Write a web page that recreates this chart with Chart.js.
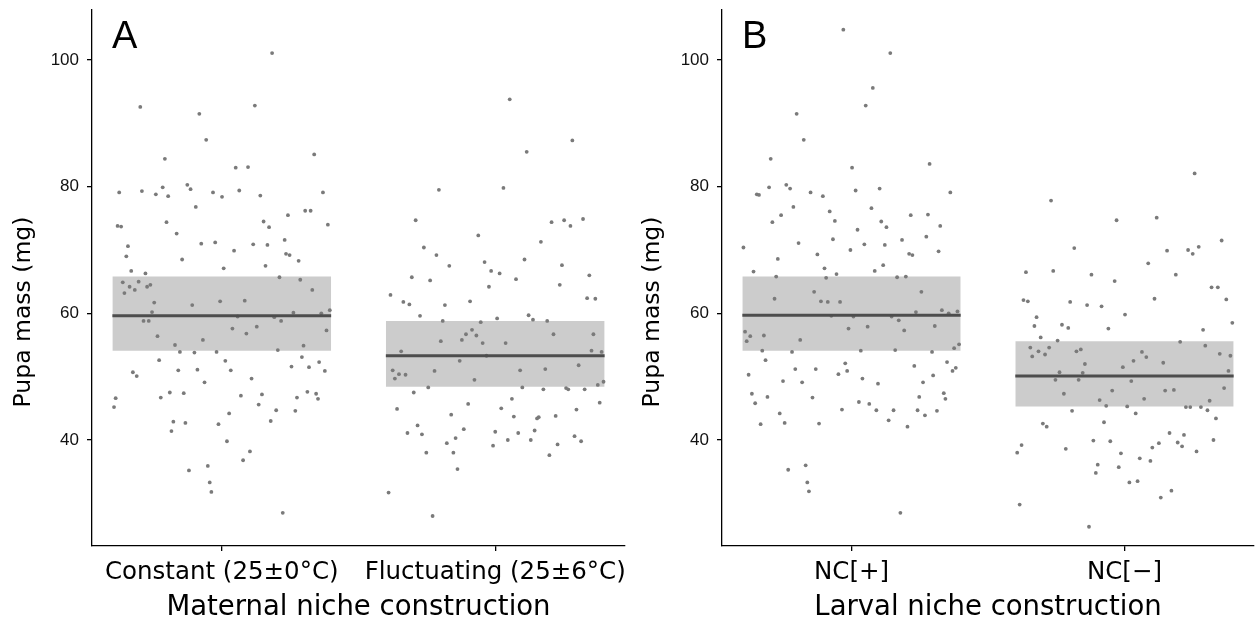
<!DOCTYPE html>
<html><head><meta charset="utf-8">
<script src="https://cdn.jsdelivr.net/npm/chart.js@4.4.1/dist/chart.umd.min.js"></script>
<style>
html,body{margin:0;padding:0;background:#fff;width:1258px;height:624px;overflow:hidden}
canvas{position:absolute;top:0}
#a{left:0}
#b{left:629px}
</style></head><body>
<canvas id="a" width="629" height="624"></canvas>
<canvas id="b" width="629" height="624"></canvas>
<script>
// ---------- DATA ----------
const yTicks = [40, 60, 80, 100];
const labelsA = ["Constant (25\u00b10\u00b0C)", "Fluctuating (25\u00b16\u00b0C)"];
const labelsB = ["NC[+]", "NC[\u2212]"];
const titleA = "Maternal niche construction";
const titleB = "Larval niche construction";
const yTitle = "Pupa mass (mg)";

// summary: mean and interval (box) per group
const meanA = [59.6, 53.3], lowerA = [54.1, 48.4], upperA = [65.8, 58.8];
const meanB = [59.7, 50.1], lowerB = [54.1, 45.3], upperB = [65.8, 55.6];

// individual observations: horizontal jitter (category units) and mass (mg)
const constantJitter = [0.184,-0.298,0.121,-0.082,-0.057,-0.208,0.338,0.051,0.096,-0.375,-0.292,-0.241,-0.216,-0.196,-0.126,-0.114,-0.032,0.001,0.064,0.141,0.370,-0.095,0.242,0.305,0.325,-0.381,-0.368,-0.202,0.153,0.173,0.388,-0.165,-0.343,-0.349,-0.075,-0.024,0.115,0.167,0.230,0.045,0.235,0.248,0.281,-0.145,0.160,0.007,
-0.331,-0.279,0.211,0.287,-0.362,-0.304,-0.337,-0.318,-0.273,-0.261,-0.356,0.331,-0.247,-0.108,-0.006,0.084,-0.255,0.262,0.364,0.395,-0.286,-0.267,0.058,0.192,0.217,0.039,0.090,0.128,0.383,-0.235,-0.069,-0.171,0.299,-0.153,-0.100,-0.019,0.205,0.293,-0.229,0.013,0.356,0.255,0.319,-0.159,-0.089,0.033,0.377,-0.325,-0.311,0.109,-0.063,-0.388,-0.394,-0.223,-0.190,-0.139,0.070,0.147,0.135,0.275,0.313,0.345,0.352,0.199,0.269,0.027,0.179,-0.177,-0.133,-0.184,-0.012,0.019,0.103,0.078,-0.051,-0.120,-0.044,-0.038,0.223];
const constantMass = [101.1,92.6,92.8,91.5,87.4,84.4,85.1,83.0,83.1,79.1,79.3,78.8,79.9,78.5,80.3,79.6,79.1,78.4,79.4,78.6,79.1,76.8,75.5,76.2,76.2,73.8,73.7,74.4,74.5,73.6,74.0,72.6,70.6,69.0,71.0,71.2,70.9,70.8,71.6,69.9,69.4,69.2,68.3,68.5,67.5,67.1,
66.7,66.3,65.7,65.3,64.9,65.0,64.2,63.7,64.2,64.5,63.2,63.7,61.7,61.3,61.9,62.0,60.2,60.1,60.0,60.5,58.8,58.8,59.5,59.4,58.8,57.6,56.8,57.9,57.3,56.4,55.8,55.0,54.9,53.9,53.8,53.9,54.2,53.1,52.6,52.5,52.3,51.6,51.5,51.0,51.1,51.0,50.9,50.7,50.1,49.7,49.1,46.6,45.2,46.7,47.5,47.4,47.0,47.2,45.6,46.7,47.6,47.3,46.5,44.7,44.6,44.2,43.0,42.9,42.7,41.4,42.5,39.8,38.2,36.8,35.9,35.2,33.3,31.8,28.5];

const fluctJitter = [0.053,0.282,0.115,-0.206,0.030,-0.291,0.206,0.252,0.275,0.321,-0.062,0.167,-0.261,-0.215,-0.168,-0.039,0.107,0.244,
-0.015,0.016,0.076,-0.305,-0.238,0.344,-0.023,0.236,-0.383,-0.336,-0.314,-0.184,-0.092,0.336,0.366,-0.275,-0.192,-0.053,0.007,0.122,0.138,0.190,-0.085,-0.107,-0.069,0.213,0.359,-0.199,-0.122,-0.046,0.038,-0.344,0.352,0.389,-0.032,-0.130,0.305,-0.375,-0.367,-0.352,-0.328,-0.222,0.091,0.183,-0.076,0.396,0.375,-0.245,0.099,0.176,0.259,0.267,0.327,-0.298,0.061,-0.099,0.382,-0.359,0.022,0.297,-0.161,0.068,0.153,0.159,0.221,-0.284,-0.321,-0.268,-0.115,0.000,0.084,0.144,0.290,0.314,-0.145,-0.177,0.046,0.130,-0.008,0.228,-0.252,-0.153,0.198,-0.138,-0.390,-0.229];
const fluctMass = [93.8,87.3,85.5,79.5,79.8,74.7,74.4,74.7,73.8,74.9,72.3,71.3,70.4,69.2,67.5,68.1,68.5,67.6,
66.7,66.3,65.4,65.7,65.2,66.0,64.2,64.5,62.9,61.8,61.4,61.3,61.9,62.4,62.3,59.6,58.8,58.6,59.2,59.7,59.0,58.8,57.4,56.7,56.5,56.7,56.7,55.6,55.8,55.3,55.3,54.0,54.1,53.9,53.3,52.5,51.8,51.0,49.7,50.4,50.3,50.9,51.0,51.2,49.5,49.2,48.7,48.3,48.3,48.0,48.2,48.0,48.0,47.5,46.5,45.7,45.9,44.9,45.0,44.8,44.0,43.7,43.4,43.6,43.8,42.3,41.1,40.9,41.7,41.3,41.1,41.5,40.6,39.8,40.3,39.5,40.0,40.0,39.1,39.3,38.0,38.0,37.6,35.4,31.7,28.0];

const ncPlusJitter = [-0.030,0.142,0.078,0.052,-0.201,-0.175,-0.296,0.286,0.002,-0.347,-0.339,-0.302,-0.239,-0.225,-0.150,-0.105,0.015,0.103,0.362,-0.213,0.073,-0.258,-0.290,-0.080,-0.061,0.217,0.280,0.109,0.128,0.325,0.022,0.274,-0.396,-0.194,-0.068,0.047,0.122,0.185,-0.004,0.211,0.223,0.319,-0.270,-0.125,-0.099,0.116,
-0.359,-0.276,-0.093,-0.055,0.085,0.167,0.199,-0.137,0.256,-0.282,-0.112,-0.087,-0.042,0.236,0.331,0.356,0.388,-0.074,0.007,0.147,0.173,-0.390,-0.384,-0.371,-0.321,-0.188,-0.011,0.059,0.193,0.305,-0.327,-0.218,0.034,0.160,0.295,0.376,0.394,-0.315,-0.023,0.350,0.230,-0.206,-0.131,-0.016,0.370,0.382,-0.377,-0.048,0.299,0.040,-0.251,-0.181,0.097,0.262,-0.365,-0.308,-0.143,0.248,0.338,0.344,-0.353,0.027,0.065,-0.035,0.091,0.154,0.242,0.313,0.269,-0.263,-0.245,-0.333,-0.119,0.136,0.205,-0.232,-0.168,-0.162,-0.156,0.179];
const ncPlusMass = [104.8,101.1,95.6,92.8,91.5,87.4,84.4,83.6,83.0,78.8,78.7,79.9,80.3,79.7,79.1,78.5,79.4,79.7,79.1,76.8,76.6,75.5,74.4,76.1,74.6,75.5,75.6,74.5,73.6,73.8,73.2,72.1,70.4,71.1,71.7,70.9,70.8,71.6,70.0,69.4,69.2,69.8,68.6,69.3,67.1,67.6,
66.6,65.8,65.6,66.2,66.7,65.7,65.8,63.4,63.4,62.3,61.9,61.8,61.8,60.2,60.5,60.0,60.3,59.6,59.5,59.5,58.9,57.1,55.6,56.4,56.5,55.8,57.6,57.9,57.3,58.0,54.1,53.9,54.1,54.2,53.9,54.5,55.1,52.6,52.1,52.3,51.7,51.2,51.2,50.9,50.9,51.4,50.3,50.4,50.2,49.7,49.3,49.1,48.9,49.1,47.3,46.8,46.7,46.8,47.4,46.5,45.8,46.0,45.7,44.8,44.7,44.7,44.7,44.6,43.9,44.2,42.7,42.5,42.6,43.1,42.1,35.3,36.0,33.3,31.9,28.5];

const ncMinusJitter = [0.257,-0.269,-0.029,0.118,0.356,-0.184,0.156,0.233,0.250,0.272,0.087,
-0.361,-0.261,-0.121,0.188,-0.036,0.319,0.342,0.110,0.373,-0.370,-0.354,-0.199,-0.137,-0.084,0.002,0.395,-0.322,-0.330,-0.229,-0.206,-0.059,0.288,-0.307,-0.245,0.204,0.296,-0.345,-0.338,-0.315,-0.291,-0.276,-0.176,-0.160,0.064,0.080,0.349,0.388,0.033,0.142,-0.145,-0.006,-0.238,-0.153,0.381,-0.253,-0.168,0.025,0.365,-0.222,-0.045,0.149,0.181,-0.091,0.072,0.312,-0.067,0.010,0.225,0.241,0.280,0.304,-0.192,0.041,0.335,-0.075,-0.299,-0.285,0.165,0.218,-0.114,-0.052,0.195,0.211,0.326,0.126,0.102,0.264,-0.377,-0.393,-0.215,-0.013,0.056,0.095,-0.021,-0.098,-0.105,0.018,0.048,0.133,0.172,-0.384,-0.130];
const ncMinusMass = [82.1,77.8,74.7,75.1,71.5,70.3,69.9,70.0,69.4,70.5,67.9,
66.5,66.7,66.1,66.1,65.1,64.1,64.1,62.3,62.2,62.1,61.9,61.8,61.3,61.1,59.8,58.5,59.4,58.0,58.2,57.7,57.6,57.4,56.2,55.7,55.5,54.9,54.6,53.2,54.0,53.5,54.6,54.0,54.3,53.9,53.1,53.6,53.3,52.5,52.2,52.0,51.5,50.7,50.6,50.9,49.5,49.5,49.3,48.2,47.3,47.8,47.8,47.9,46.3,46.5,46.2,45.4,45.3,45.2,45.2,45.2,44.7,44.6,44.2,43.4,42.8,42.6,42.1,41.1,40.8,39.9,39.8,39.6,39.0,40.0,39.5,38.8,38.2,39.2,38.0,38.6,37.9,37.1,36.7,35.7,36.1,34.8,33.3,33.5,30.9,32.0,29.8,26.3];

// ---------- STYLE ----------
const Y_MIN = 23.26, Y_MAX = 107.9;
const X_MIN = 0.5255, X_MAX = 2.4745;
const BOX_HALF = 0.4;
const TEXT_FONT = "'DejaVu Sans', 'Open Sans', sans-serif";
const NUM_FONT = "'Liberation Sans Narrow', 'Liberation Sans', Arial, sans-serif";

function pts(center, jit, mass) {
  return jit.map((j, i) => ({x: center + j, y: mass[i]}));
}

function makePanel(id, letter, catLabels, xTitle, groups, mean, lower, upper, yAxisWidth, rightPad) {
  const datasets = [];
  [0, 1].forEach(g => {
    const c = g + 1;
    datasets.push({
      data: [{x: c - BOX_HALF, y: upper[g]}, {x: c + BOX_HALF, y: upper[g]}],
      showLine: true, fill: '+1', backgroundColor: '#cccccc', borderWidth: 0,
      pointRadius: 0, order: 3, tension: 0
    });
    datasets.push({
      data: [{x: c - BOX_HALF, y: lower[g]}, {x: c + BOX_HALF, y: lower[g]}],
      showLine: true, fill: false, borderWidth: 0, borderColor: 'rgba(0,0,0,0)',
      pointRadius: 0, order: 3, tension: 0
    });
  });
  [0, 1].forEach(g => {
    datasets.push({
      data: pts(g + 1, groups[g][0], groups[g][1]),
      pointRadius: 1.9, pointBackgroundColor: '#7a7a7a', pointBorderWidth: 0,
      showLine: false, order: 2
    });
  });
  [0, 1].forEach(g => {
    const c = g + 1;
    datasets.push({
      data: [{x: c - BOX_HALF, y: mean[g]}, {x: c + BOX_HALF, y: mean[g]}],
      showLine: true, borderColor: '#4d4d4d', borderWidth: 3, pointRadius: 0,
      fill: false, order: 1, borderCapStyle: 'butt'
    });
  });

  const textPlugin = {
    id: 'text' + id,
    afterDraw(chart) {
      const ctx = chart.ctx, a = chart.chartArea;
      ctx.save();
      ctx.fillStyle = '#000';
      ctx.font = "38px 'Liberation Sans', Arial, sans-serif";
      ctx.textBaseline = 'alphabetic';
      ctx.textAlign = 'left';
      ctx.fillText(letter, a.left + 20, a.top + 38);
      // y-axis title
      ctx.translate(24, 312);
      ctx.rotate(-Math.PI / 2);
      ctx.font = "23.5px " + TEXT_FONT;
      ctx.textAlign = 'center';
      ctx.textBaseline = 'middle';
      ctx.fillText(yTitle, 0, 0);
      ctx.restore();
    }
  };

  new Chart(document.getElementById(id), {
    type: 'scatter',
    data: {datasets},
    plugins: [textPlugin],
    options: {
      responsive: false, animation: false, devicePixelRatio: 1,
      layout: {padding: {left: 0, right: rightPad, top: 10, bottom: 0}},
      plugins: {legend: {display: false}, tooltip: {enabled: false}},
      scales: {
        x: {
          type: 'linear', position: 'bottom', min: X_MIN, max: X_MAX,
          afterBuildTicks: s => { s.ticks = [{value: 1}, {value: 2}]; },
          afterFit: s => { s.height = 78; s.paddingLeft = 0; s.paddingRight = 0; },
          grid: {drawOnChartArea: false, drawTicks: true, tickLength: 5, color: '#000', lineWidth: 1.3},
          border: {display: true, color: '#000', width: 1.3},
          ticks: {
            callback: v => catLabels[Math.round(v) - 1],
            autoSkip: false, maxRotation: 0, minRotation: 0,
            color: '#000', padding: 7,
            font: {family: TEXT_FONT, size: 24.5}
          },
          title: {display: true, text: xTitle, color: '#000', padding: {top: 0, bottom: 0},
                  font: {family: TEXT_FONT, size: 27.5}}
        },
        y: {
          type: 'linear', min: Y_MIN, max: Y_MAX,
          afterBuildTicks: s => { s.ticks = yTicks.map(v => ({value: v})); },
          afterFit: s => { s.width = yAxisWidth; s.paddingTop = 0; s.paddingBottom = 0; },
          grid: {drawOnChartArea: false, drawTicks: true, tickLength: 5, color: '#000', lineWidth: 1.3},
          border: {display: true, color: '#000', width: 1.3},
          ticks: {
            callback: v => String(v), color: '#111', padding: 8,
            font: {family: NUM_FONT, size: 17}
          },
          title: {display: false}
        }
      }
    }
  });
}

makePanel('a', 'A', labelsA, titleA,
  [[constantJitter, constantMass], [fluctJitter, fluctMass]],
  meanA, lowerA, upperA, 92, 1);
makePanel('b', 'B', labelsB, titleB,
  [[ncPlusJitter, ncPlusMass], [ncMinusJitter, ncMinusMass]],
  meanB, lowerB, upperB, 93, 2);
</script>
</body></html>
